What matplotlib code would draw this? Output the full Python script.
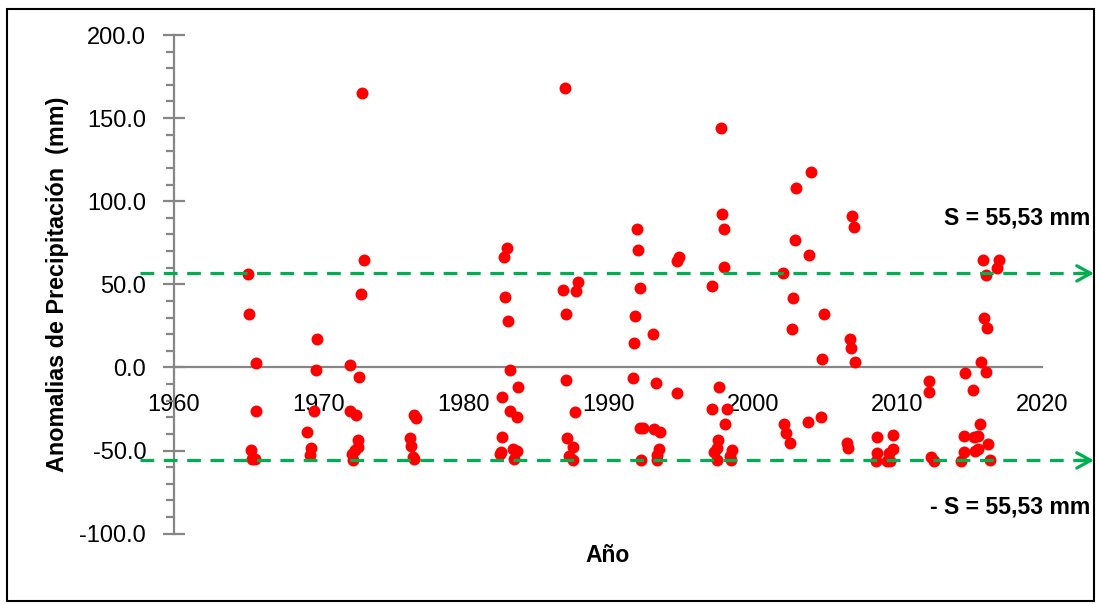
import matplotlib
matplotlib.use('Agg')
import matplotlib.pyplot as plt
from matplotlib.patches import Rectangle
from matplotlib.ticker import MultipleLocator, FormatStrFormatter

plt.rcParams['font.family'] = ['Liberation Sans', 'DejaVu Sans']

# anomalias (year, mm)
years = [1965.1, 1965.2, 1965.7, 1965.7, 1965.3, 1965.4, 1965.6,
         1969.9, 1969.8, 1969.7, 1969.2, 1969.5, 1969.4,
         1972.2, 1972.8, 1972.2, 1972.6, 1972.7, 1972.7, 1972.5, 1972.3, 1972.4, 1972.9, 1973.1, 1973.0,
         1976.6, 1976.7, 1976.3, 1976.4, 1976.5, 1976.6,
         1982.6, 1982.5, 1982.7, 1982.7, 1982.8, 1982.9, 1983.0, 1983.1, 1983.2, 1983.2, 1983.4, 1983.5,
         1983.7, 1983.7, 1983.8,
         1986.9, 1987.0, 1987.1, 1987.1, 1987.2, 1987.3, 1987.6, 1987.6, 1987.7, 1987.8, 1987.9,
         1991.7, 1991.8, 1991.9, 1992.0, 1992.1, 1992.2, 1992.2, 1992.4, 1992.3,
         1993.1, 1993.2, 1993.3, 1993.6, 1993.5, 1993.4, 1993.4, 1994.8, 1994.8, 1994.9,
         1997.2, 1997.2, 1997.3, 1997.5, 1997.5, 1997.6, 1997.7, 1997.8, 1997.9, 1998.0, 1998.05,
         1998.1, 1998.2, 1998.4, 1998.5, 1998.6,
         2002.1, 2002.2, 2002.3, 2002.6, 2002.7, 2002.8, 2002.9, 2003.0, 2003.8, 2003.9, 2004.0,
         2004.7, 2004.8, 2004.9,
         2006.5, 2006.6, 2006.7, 2006.8, 2006.9, 2007.0, 2007.1,
         2008.5, 2008.6, 2008.6, 2009.3, 2009.4, 2009.5, 2009.7, 2009.7,
         2012.2, 2012.2, 2012.3, 2012.5,
         2014.4, 2014.6, 2014.6, 2014.7, 2015.2, 2015.3, 2015.4, 2015.6, 2015.6, 2015.7, 2015.8,
         2015.9, 2016.0, 2016.1, 2016.1, 2016.2, 2016.3, 2016.4, 2016.9, 2017.0]
anom = [56.0, 32.0, 2.4, -26.4, -49.8, -55.0, -55.0,
        17.0, -1.4, -26.2, -39.0, -48.2, -52.4,
        1.2, -5.8, -26.2, -28.6, -43.4, -48.0, -49.4, -52.2, -55.6, 44.2, 64.6, 165.2,
        -28.6, -30.6, -42.6, -47.2, -54.0, -55.2,
        -50.6, -52.0, -41.8, -18.0, 66.6, 42.6, 72.0, 28.2, -1.4, -26.2, -49.0, -55.0,
        -50.4, -30.0, -11.6,
        46.6, 168.0, 32.0, -7.6, -42.6, -53.4, -47.6, -55.6, -26.6, 45.8, 51.6,
        -6.6, 14.8, 30.8, 83.4, 70.8, 48.0, -36.4, -36.6, -55.8,
        20.4, -37.0, -9.2, -39.0, -49.0, -52.6, -55.8, -15.4, 64.0, 66.4,
        48.8, -25.2, -50.8, -48.6, -55.8, -43.6, -11.6, 144.2, 92.4, 60.4, 83.4,
        -34.0, -25.2, -53.4, -55.8, -49.4,
        56.8, -34.2, -39.6, -45.4, 22.9, 42.0, 76.6, 107.8, -32.6, 67.8, 117.4,
        -30.0, 5.0, 32.2,
        -45.2, -48.2, 17.0, 12.0, 91.4, 84.6, 3.2,
        -56.2, -51.6, -41.8, -56.2, -51.2, -56.0, -40.6, -48.8,
        -8.2, -14.8, -53.6, -56.0,
        -56.0, -51.0, -41.0, -3.2, -13.4, -41.6, -50.4, -48.8, -41.4, -34.0, 3.0,
        64.4, 30.0, 55.4, -2.6, 23.6, -46.0, -55.8, 60.0, 64.4]

s_upper = 56.6
s_lower = -55.9
gray = '#868686'
green = '#00B050'

fig = plt.figure(figsize=(10.99, 6.04), dpi=100)
ax = fig.add_axes([174 / 1099, 1 - 533.7 / 604, (1042 - 174) / 1099, (533.7 - 35) / 604])

ax.plot(years, anom, 'o', color='#FF0000', markersize=8.6, markeredgewidth=0, zorder=3)

ax.set_xlim(1960, 2020)
ax.set_ylim(-100, 200)
ax.spines['top'].set_visible(False)
ax.spines['right'].set_visible(False)
ax.spines['bottom'].set_position(('data', 0))
for sp in ['left', 'bottom']:
    ax.spines[sp].set_color(gray)
    ax.spines[sp].set_linewidth(1.6)

ax.yaxis.set_major_locator(MultipleLocator(50))
ax.yaxis.set_minor_locator(MultipleLocator(10))
ax.yaxis.set_major_formatter(FormatStrFormatter('%.1f'))
ax.tick_params(axis='y', which='major', direction='inout', length=16, width=1.6, color=gray,
               labelsize=17, pad=12)
ax.tick_params(axis='y', which='minor', direction='out', length=6, width=1.6, color=gray)
ax.xaxis.set_major_locator(MultipleLocator(10))
ax.tick_params(axis='x', which='major', length=0, labelsize=17, pad=19)

# threshold lines with arrows
x0 = 1960 + (140 - 174) / 14.47
x1 = 1960 + (1097 - 174) / 14.47
for s in [s_upper, s_lower]:
    ax.plot([x0, x1 - 0.1], [s, s], color=green, lw=2.3, dashes=(4.3, 3), clip_on=False, zorder=4)
    ax.annotate('', xy=(x1, s), xytext=(x1 - 1.5, s),
                arrowprops=dict(arrowstyle='->,head_length=1.0,head_width=0.55', color=green, lw=2.3),
                annotation_clip=False, zorder=4)

fig.text(944 / 1099, 1 - 218 / 604, 'S = 55,53 mm', fontsize=16.6, fontweight='bold',
         ha='left', va='center')
fig.text(1090 / 1099, 1 - 507 / 604, '- S = 55,53 mm', fontsize=16.6, fontweight='bold',
         ha='right', va='center')

fig.text(58 / 1099, 1 - 284 / 604, 'Anomalias de Precipitación  (mm)', fontsize=16.8,
         fontweight='bold', rotation=90, ha='center', va='center')
fig.text(608 / 1099, 1 - 555 / 604, 'Año', fontsize=16.5, fontweight='bold', ha='center', va='center')

fig.patches.append(Rectangle((7 / 1099, 3 / 604), (1094 - 7) / 1099, (598 - 6) / 604,
                             transform=fig.transFigure, fill=False, edgecolor='black', lw=1.5))

fig.savefig('out.png', dpi=100)
